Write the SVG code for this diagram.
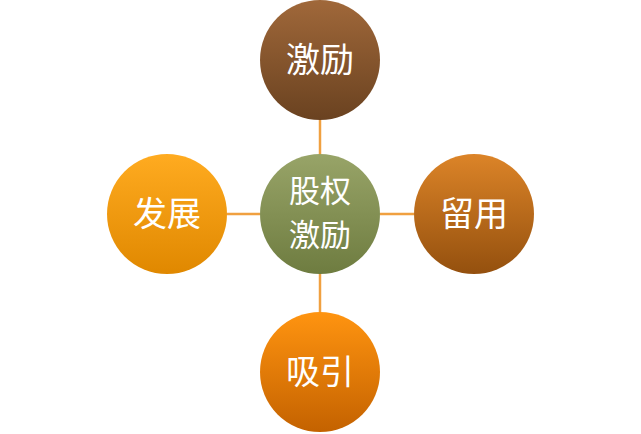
<svg xmlns="http://www.w3.org/2000/svg" width="641" height="434" viewBox="0 0 641 434">
<style>
.t{font-family:"Noto Sans CJK SC","Noto Sans",sans-serif;font-size:34px;fill:#fff;text-anchor:middle}
.s{font-size:31px}
.c{stroke:none}
</style>
<defs>
<linearGradient id="gTop" x1="0" y1="0" x2="0" y2="1"><stop offset="0" stop-color="#a0683a"/><stop offset="1" stop-color="#6a4220"/></linearGradient>
<linearGradient id="gMid" x1="0" y1="0" x2="0" y2="1"><stop offset="0" stop-color="#98a468"/><stop offset="1" stop-color="#6e7c40"/></linearGradient>
<linearGradient id="gL" x1="0" y1="0" x2="0" y2="1"><stop offset="0" stop-color="#ffab20"/><stop offset="1" stop-color="#e08800"/></linearGradient>
<linearGradient id="gR" x1="0" y1="0" x2="0" y2="1"><stop offset="0" stop-color="#dc8428"/><stop offset="1" stop-color="#94500e"/></linearGradient>
<linearGradient id="gB" x1="0" y1="0" x2="0" y2="1"><stop offset="0" stop-color="#ff9410"/><stop offset="1" stop-color="#c46200"/></linearGradient>
</defs>
<g id="connectors" stroke="#f0a040" stroke-width="2.5">
<line x1="320" y1="120" x2="320" y2="155"/>
<line x1="227" y1="214" x2="260" y2="214"/>
<line x1="380" y1="214" x2="414" y2="214"/>
<line x1="320" y1="273" x2="320" y2="312"/>
</g>
<g id="center"><circle class="c" cx="320" cy="214" r="60" fill="url(#gMid)"/><text class="t s" x="320" y="202">股权</text><text class="t s" x="320" y="246">激励</text></g>
<g id="top"><circle class="c" cx="320" cy="60" r="60" fill="url(#gTop)"/><text class="t" x="320" y="72">激励</text></g>
<g id="left"><circle class="c" cx="167" cy="214" r="60" fill="url(#gL)"/><text class="t" x="167" y="226">发展</text></g>
<g id="right"><circle class="c" cx="474" cy="214" r="60" fill="url(#gR)"/><text class="t" x="474" y="226">留用</text></g>
<g id="bottom"><circle class="c" cx="320" cy="372" r="60" fill="url(#gB)"/><text class="t" x="320" y="384">吸引</text></g>
</svg>
